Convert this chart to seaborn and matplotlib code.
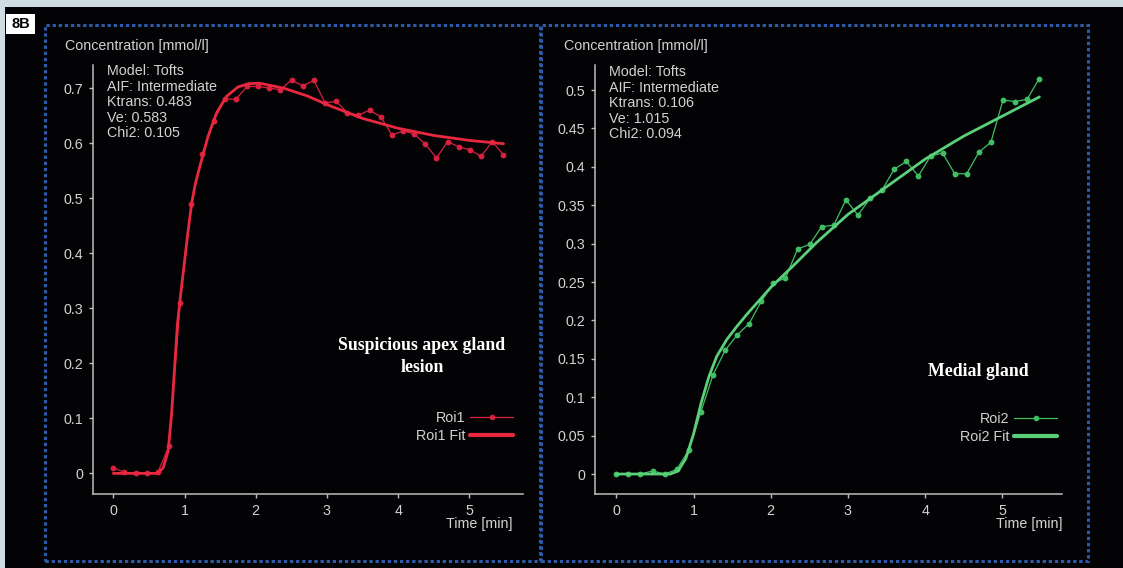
import matplotlib
matplotlib.use("Agg")
import matplotlib.pyplot as plt
from matplotlib.patches import Rectangle
from matplotlib.lines import Line2D
from matplotlib.ticker import FixedLocator, FuncFormatter
import pandas as pd
import seaborn as sns

# Acquisition times (min), shared by both regions of interest
time_min = [0.000, 0.157, 0.313, 0.470, 0.626, 0.783, 0.939, 1.096, 1.252, 1.409,
            1.565, 1.722, 1.878, 2.035, 2.191, 2.348, 2.504, 2.661, 2.817, 2.974,
            3.130, 3.287, 3.443, 3.600, 3.756, 3.913, 4.070, 4.226, 4.383, 4.539,
            4.696, 4.852, 5.009, 5.165, 5.322, 5.478]

# Measured concentration curves (mmol/l)
roi1_conc = [0.010, 0.002, 0.000, 0.000, 0.002, 0.050, 0.310, 0.490, 0.580, 0.640,
             0.680, 0.680, 0.703, 0.703, 0.700, 0.697, 0.715, 0.704, 0.714, 0.673,
             0.676, 0.655, 0.651, 0.660, 0.648, 0.615, 0.622, 0.617, 0.598, 0.573,
             0.603, 0.593, 0.588, 0.576, 0.603, 0.579]
roi2_conc = [0.000, 0.000, 0.000, 0.004, 0.000, 0.006, 0.031, 0.081, 0.129, 0.161,
             0.181, 0.196, 0.225, 0.249, 0.255, 0.293, 0.299, 0.322, 0.324, 0.357,
             0.337, 0.359, 0.370, 0.397, 0.407, 0.388, 0.414, 0.418, 0.391, 0.391,
             0.419, 0.432, 0.487, 0.485, 0.488, 0.515]

# Tofts model fits
roi1_fit_time = [0.00, 0.62, 0.70, 0.77, 0.82, 0.90, 0.95, 1.00, 1.05, 1.10, 1.15, 1.22,
                 1.33, 1.45, 1.59, 1.75, 1.90, 2.05, 2.39, 2.72, 3.04, 3.50, 4.00, 4.50,
                 5.00, 5.48]
roi1_fit = [0.000, 0.000, 0.010, 0.040, 0.110, 0.270, 0.330, 0.385, 0.440, 0.490, 0.525,
            0.560, 0.612, 0.655, 0.685, 0.702, 0.708, 0.709, 0.700, 0.686, 0.668, 0.645,
            0.627, 0.614, 0.605, 0.599]
roi2_fit_time = [0.00, 0.70, 0.80, 0.90, 1.00, 1.10, 1.20, 1.30, 1.43, 1.56, 1.70, 1.86,
                 2.01, 2.30, 2.60, 3.00, 3.50, 4.00, 4.50, 5.00, 5.48]
roi2_fit = [0.000, 0.000, 0.004, 0.020, 0.052, 0.093, 0.127, 0.153, 0.175, 0.192, 0.209,
            0.227, 0.244, 0.272, 0.302, 0.338, 0.374, 0.410, 0.440, 0.466, 0.491]

roi1_params = ["Model: Tofts", "AIF: Intermediate", "Ktrans: 0.483", "Ve: 0.583", "Chi2: 0.105"]
roi2_params = ["Model: Tofts", "AIF: Intermediate", "Ktrans: 0.106", "Ve: 1.015", "Chi2: 0.094"]

x_ticks = [0, 1, 2, 3, 4, 5]
roi1_y_ticks = [0, 0.1, 0.2, 0.3, 0.4, 0.5, 0.6, 0.7]
roi2_y_ticks = [0, 0.05, 0.1, 0.15, 0.2, 0.25, 0.3, 0.35, 0.4, 0.45, 0.5]

sns.set_style("ticks")
plt.rcParams["font.family"] = ["Liberation Sans", "DejaVu Sans"]

W, H = 1123, 568
fig = plt.figure(figsize=(W / 100, H / 100), dpi=100, facecolor="#030305")

def fx(px):
    return px / W

def fy(py):
    return 1 - py / H

TXT = "#d2d2d2"
AXC = "#bdbdbd"
FS = 10.3

# page frame: light strips at top and left, figure tag
fig.patches.append(Rectangle((0, fy(7)), 1, 7 / H, transform=fig.transFigure,
                             facecolor="#cfdce4", edgecolor="none", zorder=0))
fig.patches.append(Rectangle((0, 0), 5 / W, 1, transform=fig.transFigure,
                             facecolor="#cfdce4", edgecolor="none", zorder=0))
fig.patches.append(Rectangle((fx(6), fy(34)), 29 / W, 20 / H, transform=fig.transFigure,
                             facecolor="white", edgecolor="none", zorder=1))
fig.text(fx(20.5), fy(24), "8B", ha="center", va="center", color="black",
         fontsize=10.5, fontweight="bold", family=["Liberation Sans"])

# dotted blue panel borders
for (x0, x1) in [(45, 540), (541, 1088)]:
    fig.patches.append(Rectangle((fx(x0), fy(561)), (x1 - x0) / W, (561 - 25) / H,
                                 transform=fig.transFigure, fill=False,
                                 edgecolor="#2c5aa6", linewidth=2.2,
                                 linestyle=(0, (1.1, 0.9)), zorder=2))


def fmt(v, pos):
    return f"{v:.2f}".rstrip("0").rstrip(".")


def panel(rect_px, xlim, ylim, yticks, t, conc, ft, fit, color_pts, color_fit,
          name, params, conc_label_xy, params_xy, time_xy, note, note_xy, leg_xy):
    l, r, top, b = rect_px
    ax = fig.add_axes([fx(l), fy(b), (r - l) / W, (b - top) / H])
    ax.set_facecolor("none")
    df = pd.DataFrame({"t": t, "c": conc})
    dff = pd.DataFrame({"t": ft, "c": fit})
    sns.lineplot(data=df, x="t", y="c", ax=ax, color=color_pts, linewidth=0.9,
                 marker="o", markersize=4.2, markeredgewidth=0, sort=False,
                 estimator=None, legend=False, zorder=3)
    sns.lineplot(data=dff, x="t", y="c", ax=ax, color=color_fit, linewidth=2.0,
                 sort=False, estimator=None, legend=False, zorder=4)
    ax.set_xlim(*xlim)
    ax.set_ylim(*ylim)
    ax.xaxis.set_major_locator(FixedLocator(x_ticks))
    ax.yaxis.set_major_locator(FixedLocator(yticks))
    ax.yaxis.set_major_formatter(FuncFormatter(fmt))
    ax.set_xlabel("")
    ax.set_ylabel("")
    for s in ["top", "right"]:
        ax.spines[s].set_visible(False)
    for s in ["left", "bottom"]:
        ax.spines[s].set_color(AXC)
        ax.spines[s].set_linewidth(1.1)
    ax.tick_params(axis="both", colors=AXC, labelcolor=TXT, labelsize=FS,
                   length=3, width=1, direction="out", pad=4)
    ax.grid(False)

    fig.text(fx(conc_label_xy[0]), fy(conc_label_xy[1]), "Concentration [mmol/l]",
             ha="left", va="center", color=TXT, fontsize=FS)
    for i, line in enumerate(params):
        fig.text(fx(params_xy[0]), fy(params_xy[1] + i * 15.6), line,
                 ha="left", va="center", color=TXT, fontsize=FS)
    fig.text(fx(time_xy[0]), fy(time_xy[1]), "Time [min]", ha="right", va="center",
             color=TXT, fontsize=FS)
    for i, line in enumerate(note):
        fig.text(fx(note_xy[0]), fy(note_xy[1] + i * 23), line, ha="center",
                 va="center", color="white", fontsize=12.8, fontweight="bold",
                 family=["Liberation Serif", "DejaVu Serif"])

    handles = [
        Line2D([], [], color=color_pts, linewidth=0.9, marker="o", markersize=4,
               markeredgewidth=0),
        Line2D([], [], color=color_fit, linewidth=3.0),
    ]
    leg = ax.legend(handles, [name, name + " Fit"], loc="upper right",
                    bbox_to_anchor=(fx(leg_xy[0]), fy(leg_xy[1])),
                    bbox_transform=fig.transFigure, frameon=False, markerfirst=False,
                    fontsize=FS, handlelength=3.0, handletextpad=0.3,
                    labelspacing=0.25, borderpad=0, borderaxespad=0)
    for txt in leg.get_texts():
        txt.set_color(TXT)
    return ax


panel((93.3, 523, 65, 494.3), (-0.281, 5.754), (-0.038, 0.742), roi1_y_ticks,
      time_min, roi1_conc, roi1_fit_time, roi1_fit, "#d8203f", "#e8283f",
      "Roi1", roi1_params, (65, 46), (107, 71), (513, 524),
      ["Suspicious apex gland", "lesion"], (422, 345), (513, 411))

panel((595, 1062, 65, 494), (-0.276, 5.773), (-0.026, 0.5326), roi2_y_ticks,
      time_min, roi2_conc, roi2_fit_time, roi2_fit, "#3fbf62", "#5ccf7a",
      "Roi2", roi2_params, (564, 46), (609, 72), (1063, 524),
      ["Medial gland"], (978, 372), (1057, 412))

fig.savefig("out.png", dpi=100, facecolor=fig.get_facecolor())
